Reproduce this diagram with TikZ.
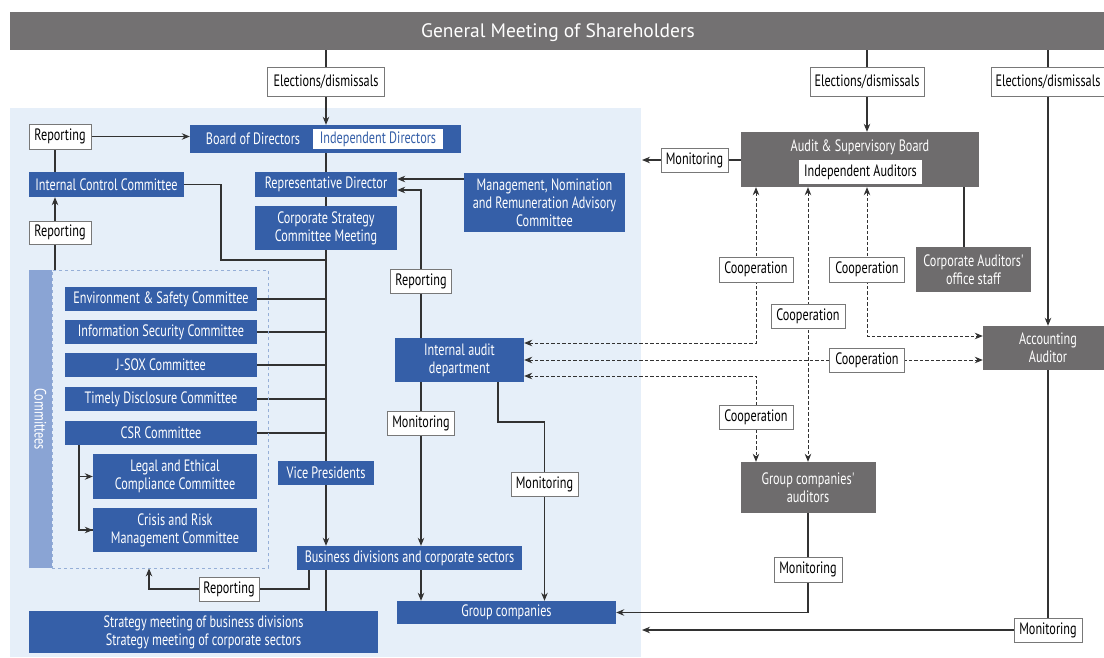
\documentclass[tikz,border=0pt]{standalone}
\usepackage{fontspec}
\newfontfamily\cf{PT Sans}[FakeStretch=0.74]
\newfontfamily\tf{PT Sans}
\usetikzlibrary{arrows.meta}
\definecolor{myblue}{RGB}{53,95,168}
\definecolor{mygray}{RGB}{110,108,109}
\definecolor{bargray}{RGB}{115,113,114}
\definecolor{lightbg}{RGB}{230,239,249}
\definecolor{combar}{RGB}{138,164,212}
\definecolor{comdash}{RGB}{150,175,215}
\definecolor{lblgray}{RGB}{120,120,120}
\definecolor{linegray}{RGB}{50,50,50}
\pgfdeclarelayer{bg}\pgfdeclarelayer{lines}\pgfsetlayers{bg,lines,main}
\begin{document}
\begin{tikzpicture}[x=1pt,y=-1pt,
 bx/.style={inner sep=0pt,align=center,font=\cf\fontsize{16.5}{18}\selectfont},
 bluebox/.style={bx,fill=myblue,text=white},
 graybox/.style={bx,fill=mygray,text=white},
 lbl/.style={bx,draw=lblgray,line width=0.8pt,fill=white,text=black},
 conn/.style={draw=linegray,line width=1.1pt},
 tip/.tip={Stealth[length=8pt,width=6.5pt]},
 arr/.style={conn,-tip},
 darr/.style={conn,line width=0.9pt,dash pattern=on 3.5pt off 2pt,tip-tip},
]
\useasboundingbox (0,0) rectangle (1104,657);
\begin{pgfonlayer}{bg}
\fill[lightbg] (10,108) rectangle (641,657);
\end{pgfonlayer}
% top bar
\node[fill=bargray,inner sep=0pt,minimum width=1094pt,minimum height=38pt] (gms) at (557,31) {};
\node[text=white,inner sep=0pt,font=\tf\fontsize{19.5}{24}\selectfont] (gmstext) at (558,32.5) {General Meeting of Shareholders};
% elections
\node[lbl,minimum width=117pt,minimum height=29pt] (el1) at (326,81.5) {Elections/dismissals};
\node[lbl,minimum width=114pt,minimum height=29pt] (el2) at (867,81.5) {Elections/dismissals};
\node[lbl,minimum width=113pt,minimum height=29pt] (el3) at (1048,81.5) {Elections/dismissals};
% board
\node[bluebox,minimum width=271pt,minimum height=28pt] (board) at (325.5,139) {};
\node[bx,text=white] (bdtext) at (253,139) {Board of Directors};
\node[bx,fill=white,text=myblue,minimum width=130pt,minimum height=20pt] (indir) at (378,139) {Independent Directors};
% left column
\node[lbl,minimum width=62pt,minimum height=25pt] (rep1) at (60,136.5) {Reporting};
\node[bluebox,minimum width=155pt,minimum height=25pt] (icc) at (106.5,184.5) {Internal Control Committee};
\node[lbl,minimum width=62pt,minimum height=23pt] (rep2) at (60,232.5) {Reporting};
% committees block
\node[draw=comdash,dashed,line width=0.8pt,minimum width=216pt,minimum height=298pt,inner sep=0pt] (cbox) at (160,419) {};
\node[fill=combar,minimum width=23pt,minimum height=298pt,inner sep=0pt] (cbar) at (40.5,419) {};
\node[bx,text=white,rotate=-90] (ctext) at (40.5,419) {Committees};
\node[bluebox,minimum width=192pt,minimum height=24pt] (env) at (161,299) {Environment \& Safety Committee};
\node[bluebox,minimum width=192pt,minimum height=24pt] (info) at (161,332) {Information Security Committee};
\node[bluebox,minimum width=192pt,minimum height=24pt] (jsox) at (161,365) {J-SOX Committee};
\node[bluebox,minimum width=192pt,minimum height=24pt] (timely) at (161,399) {Timely Disclosure Committee};
\node[bluebox,minimum width=192pt,minimum height=24pt] (csr) at (161,433) {CSR Committee};
\node[bluebox,minimum width=164pt,minimum height=45pt] (legal) at (175,476.5) {Legal and Ethical\\Compliance Committee};
\node[bluebox,minimum width=164pt,minimum height=44pt] (crisis) at (175,530) {Crisis and Risk\\Management Committee};
% center column
\node[bluebox,minimum width=142pt,minimum height=25pt] (repdir) at (326,184.5) {Representative Director};
\node[bluebox,minimum width=142pt,minimum height=44pt] (cscm) at (326,228) {Corporate Strategy\\Committee Meeting};
\node[bluebox,minimum width=96pt,minimum height=24pt] (vp) at (326,473) {Vice Presidents};
\node[bluebox,minimum width=225pt,minimum height=24pt] (bdcs) at (409.5,558) {Business divisions and corporate sectors};
\node[lbl,minimum width=60pt,minimum height=24pt] (rep4) at (229,589) {Reporting};
\node[bluebox,minimum width=349pt,minimum height=42pt] (strat) at (203.5,632) {Strategy meeting of business divisions\\Strategy meeting of corporate sectors};
\node[bluebox,minimum width=219pt,minimum height=23pt] (gc) at (506.5,612.5) {Group companies};
\node[bluebox,minimum width=161pt,minimum height=59pt] (mnrac) at (544.5,202.5) {Management, Nomination\\and Remuneration Advisory\\Committee};
\node[lbl,minimum width=61pt,minimum height=24pt] (rep3) at (421,281) {Reporting};
\node[bluebox,minimum width=129pt,minimum height=44pt] (iad) at (459.5,360) {Internal audit\\department};
\node[lbl,minimum width=67pt,minimum height=24pt] (mon1) at (421,423) {Monitoring};
\node[lbl,minimum width=67pt,minimum height=24pt] (mon2) at (544.5,484) {Monitoring};
% right side
\node[graybox,minimum width=238pt,minimum height=55pt] (asb) at (860,159.5) {};
\node[bx,text=white] (asbtext) at (860,147) {Audit \& Supervisory Board};
\node[bx,fill=white,text=black,minimum width=123pt,minimum height=24pt] (indaud) at (860.5,172) {Independent Auditors};
\node[lbl,minimum width=67pt,minimum height=24pt] (mon3) at (694.5,160) {Monitoring};
\node[lbl,minimum width=74pt,minimum height=25pt] (coopA) at (756,269.5) {Cooperation};
\node[lbl,minimum width=75pt,minimum height=25pt] (coopB) at (867,269.5) {Cooperation};
\node[graybox,minimum width=115pt,minimum height=45pt] (staff) at (973.5,269.5) {Corporate Auditors'\\office staff};
\node[lbl,minimum width=74pt,minimum height=24pt] (coopC) at (808,316) {Cooperation};
\node[lbl,minimum width=75pt,minimum height=24pt] (coopD) at (867,360) {Cooperation};
\node[lbl,minimum width=74pt,minimum height=24pt] (coopE) at (756,417) {Cooperation};
\node[graybox,minimum width=121pt,minimum height=44pt] (acc) at (1043.5,348) {};
\node[bx,text=white] (acctext) at (1048,348) {Accounting\\Auditor};
\node[graybox,minimum width=135pt,minimum height=51pt] (gca) at (808,487.5) {Group companies'\\auditors};
\node[lbl,minimum width=68pt,minimum height=25pt] (mon4) at (808,569.5) {Monitoring};
\node[lbl,minimum width=68pt,minimum height=24pt] (mon5) at (1048,630) {Monitoring};
% helper coordinates
\coordinate (cx) at (55,0);
\coordinate (bx) at (79,0);
\coordinate (jx) at (221,0);
\coordinate (ya) at (0,179);
\coordinate (yb) at (0,190);
\coordinate (yc) at (0,260);
\coordinate (ia) at (0,343);
\coordinate (ib) at (0,336);
\coordinate (ie) at (0,376);
\coordinate (sx) at (964,0);
\coordinate (gx) at (498,0);
\coordinate (gy) at (0,422);
\coordinate (rx) at (309,0);
\coordinate (lx) at (149,0);
\coordinate (edge) at (642,0);
\begin{pgfonlayer}{lines}
% elections
\draw[conn] (gms.south -| el1) -- (el1.north);
\draw[arr] (el1.south) -- (board.north -| el1);
\draw[conn] (gms.south -| el2) -- (el2.north);
\draw[arr] (el2.south) -- (asb.north -| el2);
\draw[conn] (gms.south -| el3) -- (el3.north);
\draw[arr] (el3.south) -- (acc.north -| el3);
% left
\draw[arr] (rep1.east) -- (rep1.east -| board.west);
\draw[conn] (rep1.south -| cx) -- (icc.north -| cx);
\draw[arr] (rep2.north -| cx) -- (icc.south -| cx);
\draw[conn] (cbox.north -| cx) -- (rep2.south -| cx);
\draw[conn] (icc.east) -| (jx |- yc) -- (vp |- yc);
% main vertical
\draw[conn] (board.south -| repdir) -- (repdir.north);
\draw[conn] (repdir.south) -- (cscm.north);
\draw[conn] (cscm.south) -- (vp.north);
\draw[arr] (vp.south) -- (bdcs.north -| vp);
\foreach \c in {env,info,jsox,timely,csr}{\draw[conn] (\c.east) -- (\c.east -| vp);}
\draw[conn] (csr.south -| bx) |- (crisis.west);
\draw[arr] (bx |- crisis.west) -- (crisis.west);
\draw[arr] (bx |- legal.west) -- (legal.west);
% advisory and audit
\draw[arr] (mnrac.west |- ya) -- (repdir.east |- ya);
\draw[conn] (iad.north -| rep3) -- (rep3.south);
\draw[arr] (rep3.north) |- (repdir.east |- yb);
\draw[conn] (iad.south -| mon1) -- (mon1.north);
\draw[arr] (mon1.south) -- (bdcs.north -| mon1);
\draw[conn] (iad.south -| gx) -- (gx |- gy) -| (mon2.north);
\draw[arr] (mon2.south) -- (gc.north -| mon2);
\draw[arr] (bdcs.south -| mon1) -- (gc.north -| mon1);
\draw[conn] (bdcs.south -| vp) -- (strat.north -| vp);
\draw[conn] (bdcs.south -| rx) |- (rep4.east);
\draw[arr] (rep4.west) -| (cbox.south -| lx);
% right
\draw[conn] (asb.west |- mon3) -- (mon3.east);
\draw[arr] (mon3.west) -- (edge |- mon3);
\draw[conn] (asb.south -| sx) -- (staff.north -| sx);
\draw[darr] (iad.east |- ia) -| (asb.south -| coopA);
\draw[darr] (asb.south -| coopB) |- (acc.west |- ib);
\draw[darr] (iad.east) -- (acc.west |- iad.east);
\draw[darr] (iad.east |- ie) -| (gca.north -| coopE);
\draw[darr] (asb.south -| coopC) -- (gca.north -| coopC);
\draw[conn] (gca.south) -- (mon4.north);
\draw[arr] (mon4.south) |- (gc.east);
\draw[conn] (acc.south -| el3) -- (mon5.north);
\draw[arr] (mon5.west) -- (edge |- mon5);
\end{pgfonlayer}
\end{tikzpicture}
\end{document}
